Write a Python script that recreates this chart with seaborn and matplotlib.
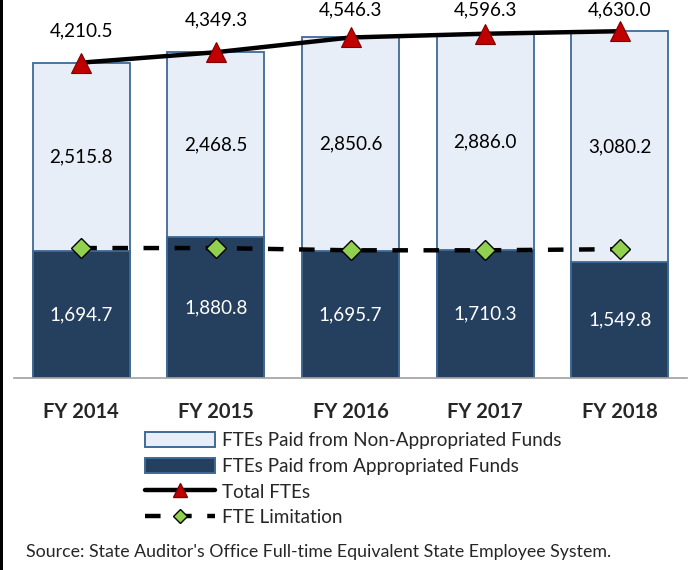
import matplotlib
matplotlib.use("Agg")
import matplotlib.pyplot as plt
import seaborn as sns
import pandas as pd
import numpy as np
from matplotlib.lines import Line2D
from matplotlib.patches import Patch, Rectangle

years = ["FY 2014", "FY 2015", "FY 2016", "FY 2017", "FY 2018"]
non_appropriated = [2515.8, 2468.5, 2850.6, 2886.0, 3080.2]
appropriated = [1694.7, 1880.8, 1695.7, 1710.3, 1549.8]
total_ftes = [4210.5, 4349.3, 4546.3, 4596.3, 4630.0]
fte_limitation = [1735.0, 1735.0, 1705.0, 1705.0, 1720.0]

sns.set_theme(style="white")
plt.rcParams["font.family"] = ["Lato", "DejaVu Sans"]

light = "#E7EEF7"
dark = "#253F5F"
edge = "#3F6A97"

df = pd.DataFrame({"year": years, "non": non_appropriated, "app": appropriated,
                   "total": total_ftes, "limit": fte_limitation})

fig = plt.figure(figsize=(6.92, 5.70), dpi=100)
ax = fig.add_axes([14/692, (570-378)/570, 673/692, 373/570])

sns.barplot(data=df, x="year", y="total", color=light, width=0.72, ax=ax,
            edgecolor=edge, linewidth=1.3, saturation=1)
sns.barplot(data=df, x="year", y="app", color=dark, width=0.72, ax=ax,
            edgecolor=edge, linewidth=1.3, saturation=1)

sns.lineplot(data=df, x="year", y="limit", ax=ax, color="black", lw=3.2,
             linestyle=(0, (3.5, 3.5)), marker="D", markersize=10,
             markerfacecolor="#92D050", markeredgecolor="black", markeredgewidth=1,
             zorder=5)
sns.lineplot(data=df, x="year", y="total", ax=ax, color="black", lw=3.2,
             marker="^", markersize=14, markerfacecolor="#C00000",
             markeredgecolor="#800000", markeredgewidth=0.8, zorder=6)

ytop = 4980
for i in range(len(years)):
    ax.text(i, appropriated[i] + non_appropriated[i] / 2, f"{non_appropriated[i]:,.1f}",
            ha="center", va="center", fontsize=13.6, color="black")
    ax.text(i, appropriated[i] / 2, f"{appropriated[i]:,.1f}",
            ha="center", va="center", fontsize=13.6, color="white")
    ax.text(i, min(total_ftes[i] + 430, ytop - 70), f"{total_ftes[i]:,.1f}",
            ha="center", va="center", fontsize=13.6, color="black")

ax.set_ylim(0, ytop)
ax.set_xlim(-0.5, 4.5)
ax.set_xlabel("")
ax.set_ylabel("")
ax.set_yticks([])
for s in ["top", "left", "right"]:
    ax.spines[s].set_visible(False)
ax.spines["bottom"].set_color("#A0A0A0")
ax.spines["bottom"].set_linewidth(1.2)
ax.set_xticks(range(len(years)))
ax.set_xticklabels(years, fontsize=14.5, fontweight="bold")
ax.tick_params(axis="x", which="major", length=0, pad=17)
ax.set_xticks(np.arange(-0.5, 5, 1.0), minor=True)
ax.tick_params(axis="x", which="minor", length=6, color="#A0A0A0", width=1.2, direction="out")

handles = [
    Patch(facecolor=light, edgecolor=edge, linewidth=1.4, label="FTEs Paid from Non-Appropriated Funds"),
    Patch(facecolor=dark, edgecolor=edge, linewidth=1.4, label="FTEs Paid from Appropriated Funds"),
    Line2D([], [], color="black", lw=3.2, marker="^", markersize=10,
           markerfacecolor="#C00000", markeredgecolor="#800000", label="Total FTEs"),
    Line2D([], [], color="black", lw=3.2, linestyle=(0, (3.5, 3.5)), marker="D", markersize=7,
           markerfacecolor="#92D050", markeredgecolor="black", label="FTE Limitation"),
]
fig.legend(handles=handles, loc="upper left", bbox_to_anchor=(137/692, 1 - 424/570),
           frameon=False, fontsize=13.6, handlelength=3.75, handleheight=0.85,
           labelspacing=0.47, handletextpad=0.35, borderaxespad=0)

fig.text(26/692, 1 - 552/570, "Source: State Auditor's Office Full-time Equivalent State Employee System.",
         fontsize=12.8, va="center", ha="left")

fig.patches.append(Rectangle((0, 0), 2.5/692, 1, transform=fig.transFigure,
                             facecolor="black", edgecolor="none"))

fig.savefig("out.png", dpi=100)
